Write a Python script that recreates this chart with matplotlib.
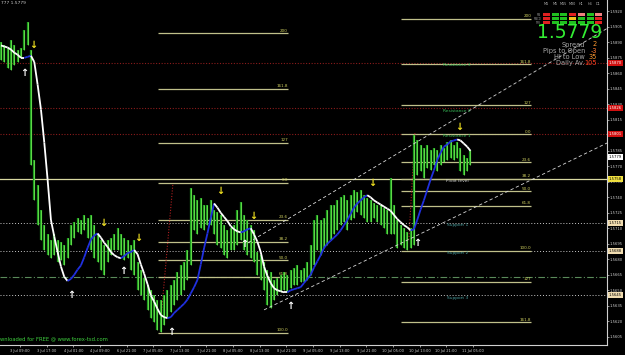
import numpy as np
import matplotlib
matplotlib.use("Agg")
import matplotlib.pyplot as plt
import matplotlib.transforms as mtransforms
from matplotlib.collections import LineCollection
from matplotlib.patches import Rectangle

# H1 bars, hour 0 = first visible bar on the left edge
bar_high = [
    1.5890, 1.5887, 1.5885, 1.5892, 1.5887, 1.5883, 1.5885, 1.5902, 1.5910, 1.5883,
    1.5776, 1.5752, 1.5728, 1.5713, 1.5704, 1.5699, 1.5704, 1.5699, 1.5697, 1.5694,
    1.5701, 1.5713, 1.5716, 1.5720, 1.5718, 1.5723, 1.5720, 1.5723, 1.5713, 1.5704,
    1.5699, 1.5694, 1.5699, 1.5701, 1.5704, 1.5710, 1.5704, 1.5701, 1.5699, 1.5694,
    1.5699, 1.5677, 1.5670, 1.5662, 1.5655, 1.5650, 1.5645, 1.5641, 1.5641, 1.5645,
    1.5650, 1.5655, 1.5660, 1.5668, 1.5674, 1.5677, 1.5689, 1.5749, 1.5742, 1.5737,
    1.5739, 1.5733, 1.5733, 1.5737, 1.5728, 1.5726, 1.5723, 1.5713, 1.5708, 1.5710,
    1.5713, 1.5728, 1.5735, 1.5723, 1.5718, 1.5713, 1.5708, 1.5687, 1.5684, 1.5677,
    1.5670, 1.5668, 1.5660, 1.5662, 1.5665, 1.5668, 1.5665, 1.5670, 1.5672, 1.5674,
    1.5670, 1.5672, 1.5677, 1.5694, 1.5718, 1.5723, 1.5718, 1.5720, 1.5728, 1.5733,
    1.5733, 1.5737, 1.5740, 1.5742, 1.5737, 1.5742, 1.5747, 1.5745, 1.5747, 1.5742,
    1.5739, 1.5737, 1.5734, 1.5733, 1.5733, 1.5730, 1.5728, 1.5759, 1.5733, 1.5718,
    1.5713, 1.5710, 1.5706, 1.5710, 1.5800, 1.5795, 1.5791, 1.5788, 1.5791, 1.5786,
    1.5788, 1.5786, 1.5791, 1.5788, 1.5794, 1.5795, 1.5791, 1.5794, 1.5788, 1.5781,
    1.5778, 1.5786,
]
bar_low = [
    1.5873, 1.5871, 1.5865, 1.5863, 1.5868, 1.5871, 1.5875, 1.5883, 1.5887, 1.5771,
    1.5737, 1.5713, 1.5699, 1.5689, 1.5684, 1.5681, 1.5684, 1.5677, 1.5679, 1.5674,
    1.5681, 1.5694, 1.5701, 1.5706, 1.5704, 1.5708, 1.5701, 1.5689, 1.5681, 1.5677,
    1.5670, 1.5665, 1.5677, 1.5684, 1.5689, 1.5689, 1.5684, 1.5679, 1.5681, 1.5670,
    1.5665, 1.5650, 1.5645, 1.5641, 1.5631, 1.5623, 1.5619, 1.5612, 1.5610, 1.5616,
    1.5623, 1.5629, 1.5636, 1.5641, 1.5645, 1.5650, 1.5660, 1.5674, 1.5708, 1.5704,
    1.5710, 1.5708, 1.5713, 1.5713, 1.5704, 1.5694, 1.5691, 1.5684, 1.5681, 1.5689,
    1.5689, 1.5694, 1.5699, 1.5689, 1.5684, 1.5681, 1.5677, 1.5665, 1.5660, 1.5650,
    1.5636, 1.5633, 1.5641, 1.5645, 1.5648, 1.5650, 1.5648, 1.5652, 1.5655, 1.5655,
    1.5658, 1.5658, 1.5660, 1.5665, 1.5674, 1.5689, 1.5684, 1.5691, 1.5694, 1.5699,
    1.5704, 1.5708, 1.5713, 1.5716, 1.5708, 1.5718, 1.5720, 1.5726, 1.5723, 1.5720,
    1.5716, 1.5716, 1.5720, 1.5716, 1.5713, 1.5710, 1.5704, 1.5704, 1.5704, 1.5691,
    1.5694, 1.5691, 1.5689, 1.5691, 1.5694, 1.5762, 1.5765, 1.5759, 1.5768, 1.5766,
    1.5771, 1.5765, 1.5771, 1.5774, 1.5776, 1.5778, 1.5776, 1.5778, 1.5765, 1.5762,
    1.5765, 1.5771,
]
# smoothed trend line (blue when rising, white when falling)
ma_values = [
    1.5887, 1.5886, 1.5885, 1.5883, 1.5880, 1.5878, 1.5875, 1.5875, 1.5876, 1.5877,
    1.5871, 1.5849, 1.5825, 1.5793, 1.5757, 1.5718, 1.5702, 1.5687, 1.5673, 1.5663,
    1.5659, 1.5661, 1.5665, 1.5670, 1.5674, 1.5682, 1.5691, 1.5699, 1.5703, 1.5705,
    1.5701, 1.5696, 1.5692, 1.5687, 1.5684, 1.5682, 1.5681, 1.5683, 1.5686, 1.5687,
    1.5689, 1.5685, 1.5675, 1.5666, 1.5656, 1.5645, 1.5639, 1.5632, 1.5626, 1.5624,
    1.5623, 1.5624, 1.5628, 1.5631, 1.5634, 1.5637, 1.5641, 1.5647, 1.5653, 1.5660,
    1.5675, 1.5691, 1.5705, 1.5720, 1.5734, 1.5730, 1.5725, 1.5721, 1.5717, 1.5712,
    1.5709, 1.5707, 1.5706, 1.5707, 1.5709, 1.5710, 1.5704, 1.5697, 1.5687, 1.5673,
    1.5664, 1.5657, 1.5652, 1.5650, 1.5649, 1.5648, 1.5648, 1.5650, 1.5651, 1.5652,
    1.5653, 1.5657, 1.5661, 1.5665, 1.5672, 1.5678, 1.5684, 1.5691, 1.5695, 1.5698,
    1.5701, 1.5704, 1.5708, 1.5713, 1.5718, 1.5724, 1.5730, 1.5734, 1.5737, 1.5740,
    1.5742, 1.5740, 1.5737, 1.5735, 1.5733, 1.5731, 1.5729, 1.5727, 1.5723, 1.5719,
    1.5716, 1.5713, 1.5711, 1.5708, 1.5709, 1.5718, 1.5728, 1.5737, 1.5747, 1.5757,
    1.5766, 1.5776, 1.5783, 1.5789, 1.5791, 1.5794, 1.5795, 1.5796, 1.5795, 1.5792,
    1.5789, 1.5785,
]

# fibonacci sets (start hour, end hour)
fib1_span = (47.1, 86.2)
fib1_labels = ["200", "161.8", "127", "0.0", "23.6", "38.2", "50.0", "61.8", "100.0"]
fib1_prices = [1.5899, 1.5845, 1.5793, 1.5754, 1.5718, 1.5697, 1.5679, 1.5663, 1.5609]
fib2_span = (120.1, 159.2)
fib2_labels = ["200", "161.8", "127", "0.0", "23.6", "38.2", "50.0", "61.8", "100.0", "127", "161.8"]
fib2_prices = [1.5913, 1.5869, 1.5829, 1.5801, 1.5774, 1.5758, 1.5746, 1.5732, 1.5688, 1.5658, 1.5619]

pivot_names = ["Resistance 3", "Resistance 2", "Resistance 1", "Pivot level",
               "Support 1", "Support 2", "Support 3"]
pivot_prices = [1.5870, 1.5826, 1.5801, 1.5758, 1.5715, 1.5688, 1.5645]
daily_open = 1.5663
last_price = 1.5779

channel_upper = [(74.2, 1.5696), (182.3, 1.5904)]
channel_lower = [(79.0, 1.5631), (182.3, 1.5793)]
separators = [[(51.6, 1.5752), (48.0, 1.5621)], [(124.3, 1.5802), (122.5, 1.5699)]]

sell_x = [9.6, 30.6, 41.1, 65.8, 75.7, 111.4, 137.5]
sell_y = [1.5887, 1.5715, 1.5701, 1.5746, 1.5722, 1.5754, 1.5808]
buy_x = [6.9, 21.0, 36.6, 51.0, 73.0, 86.8, 124.9]
buy_y = [1.5860, 1.5645, 1.5669, 1.5610, 1.5695, 1.5635, 1.5696]

time_labels = ["3 Jul 09:00", "3 Jul 17:00", "4 Jul 01:00", "4 Jul 09:00", "6 Jul 21:00",
               "7 Jul 05:00", "7 Jul 13:00", "7 Jul 21:00", "8 Jul 05:00", "8 Jul 13:00",
               "8 Jul 21:00", "9 Jul 05:00", "9 Jul 13:00", "9 Jul 21:00", "10 Jul 05:00",
               "10 Jul 13:00", "10 Jul 21:00", "11 Jul 05:00"]

tf_names = ["M1", "M5", "M15", "M30", "H1", "H4", "D1"]
tf_colors = [
    ["#e02020", "#20c020", "#20c020", "#e02020", "#f08080", "#20c020", "#f08080"],
    ["#e02020", "#20c020", "#20c020", "#f0c020", "#20c020", "#20c020", "#e02020"],
    ["#e02020", "#20c020", "#20c020", "#20c020", "#20c020", "#20c020", "#e02020"],
]
info_names = ["Spread", "Pips to Open", "Hi to Low", "Daily Av."]
info_values = ["2", "-3", "35", "105"]
info_colors = ["#ff9a30", "#ff7a30", "#ff9a30", "#ff4020"]

W, H = 625, 355
fig = plt.figure(figsize=(W / 100, H / 100), dpi=100, facecolor="black")
ax = fig.add_axes([0, 10 / H, 607 / W, 345 / H])
ax.set_facecolor("black")
ax.set_xlim(-0.3, 182.0)
ax.set_ylim(1.5597, 1.5931)

hours = np.arange(len(bar_high))

# horizontal pivot lines across the chart
for p in pivot_prices[:3]:
    ax.axhline(p, color="#8b1c1c", lw=0.8, ls=(0, (1, 1.5)))
ax.axhline(pivot_prices[3], color="#d8d8a0", lw=0.9)
for p in pivot_prices[4:]:
    ax.axhline(p, color="#c8c8c8", lw=0.7, ls=(0, (1, 2)))
ax.axhline(daily_open, color="#5a8a5a", lw=0.8, ls=(0, (6, 2, 1, 2)))

# fibonacci levels
for span, labels, prices in [(fib1_span, fib1_labels, fib1_prices), (fib2_span, fib2_labels, fib2_prices)]:
    for lab, p in zip(labels, prices):
        ax.hlines(p, span[0], span[1], color="#c0c08a", lw=0.9)
        ax.text(span[1], p + 0.00005, lab, color="#d0d060", fontsize=3.0,
                ha="right", va="bottom")

# separators
for seg in separators:
    ax.plot([seg[0][0], seg[1][0]], [seg[0][1], seg[1][1]], color="#b02020", lw=0.8, ls=(0, (1, 1.5)))

# price bars
ax.vlines(hours, bar_low, bar_high, color="#1f9e1f", lw=1.6)
ax.vlines(hours, bar_low, bar_high, color="#7cf05a", lw=0.5)

# trend line
ma = np.array(ma_values)
pts = np.column_stack([hours, ma])
segs = np.stack([pts[:-1], pts[1:]], axis=1)
cols = ["#2030e0" if ma[i + 1] > ma[i] else "white" for i in range(len(ma) - 1)]
ax.add_collection(LineCollection(segs, colors=cols, linewidths=1.3))

# channel
for line in [channel_upper, channel_lower]:
    ax.plot([line[0][0], line[1][0]], [line[0][1], line[1][1]], color="#d8d8d8",
            lw=0.6, ls=(0, (4, 3)), clip_on=True)

# signal arrows
for x, y in zip(sell_x, sell_y):
    ax.text(x, y, "↓", color="#f0e020", fontsize=7, fontweight="bold", ha="center", va="center")
for x, y in zip(buy_x, buy_y):
    ax.text(x, y, "↑", color="white", fontsize=7, fontweight="bold", ha="center", va="center")

# pivot names
name_colors = ["#36b856"] * 3 + ["#d0d0d0"] + ["#4aa0a0"] * 3
for name, p, c in zip(pivot_names, pivot_prices, name_colors):
    ax.text(137, p - 0.00002, name, color=c, fontsize=3.2, ha="center", va="top")

# axes styling
for s in ["top", "left"]:
    ax.spines[s].set_visible(False)
for s in ["right", "bottom"]:
    ax.spines[s].set_color("#d0d0d0")
    ax.spines[s].set_linewidth(0.8)
ax.yaxis.tick_right()
yt = np.arange(1.5605, 1.5930, 0.0015)
ax.set_yticks(yt)
ax.set_yticklabels([f"{v:.4f}" for v in yt])
ax.tick_params(axis="y", colors="#d0d0d0", labelsize=2.7, length=1.2, width=0.5, pad=0.8)
xt = 5.7 + 8 * np.arange(len(time_labels))
ax.set_xticks(xt)
ax.set_xticklabels(time_labels)
ax.tick_params(axis="x", colors="#d0d0d0", labelsize=2.6, length=1.5, width=0.5, pad=1.2)

# price boxes on the right axis
trans = mtransforms.blended_transform_factory(ax.transAxes, ax.transData)
box_items = [(p, "#d01010", "white") for p in pivot_prices[:3]]
box_items += [(last_price, "white", "black"), (pivot_prices[3], "#f0e040", "black")]
box_items += [(p, "#f0dcb0", "black") for p in pivot_prices[4:]]
for p, bg, fg in box_items:
    ax.text(1.003, p, f"{p:.4f}", transform=trans, fontsize=2.7, color=fg, ha="left",
            va="center", clip_on=False, zorder=5,
            bbox=dict(facecolor=bg, edgecolor="none", pad=0.7))

# info panel top right
def fx(x):
    return x / W


def fy(y):
    return 1 - y / H


col_x = [543, 552, 560, 569, 578, 587, 595]
for j, name in enumerate(tf_names):
    fig.text(fx(col_x[j] + 3), fy(4), name, color="#b0b0b0", fontsize=2.4, ha="center", va="center")
for i, row in enumerate(tf_colors):
    for j, c in enumerate(row):
        fig.add_artist(Rectangle((fx(col_x[j]), fy(13 + 4 * i + 3)), 6.5 / W, 3 / H,
                                 transform=fig.transFigure, facecolor=c, edgecolor="none"))
for i, lab in enumerate(["MA", "MACD", "STR"]):
    fig.text(fx(541), fy(14.5 + 4 * i), lab, color="#909090", fontsize=1.9, ha="right", va="center")

fig.text(fx(570), fy(32.5), f"{last_price:.4f}", color="#33ee33", fontsize=13.5,
         ha="center", va="center")
for i, (n, v, c) in enumerate(zip(info_names, info_values, info_colors)):
    fig.text(fx(585), fy(44.5 + 6.1 * i), n, color="#a8a8a8", fontsize=4.8, ha="right", va="center")
    fig.text(fx(597), fy(44.5 + 6.1 * i), v, color=c, fontsize=4.8, ha="right", va="center")

fig.text(fx(1), fy(3), "777 1.5779", color="#d0d0d0", fontsize=3.2, ha="left", va="center")
fig.text(fx(0), fy(339), "wnloaded for FREE @ www.forex-tsd.com", color="#3ecf3e",
         fontsize=3.8, ha="left", va="center")

fig.savefig("out.png", dpi=100, facecolor="black")
